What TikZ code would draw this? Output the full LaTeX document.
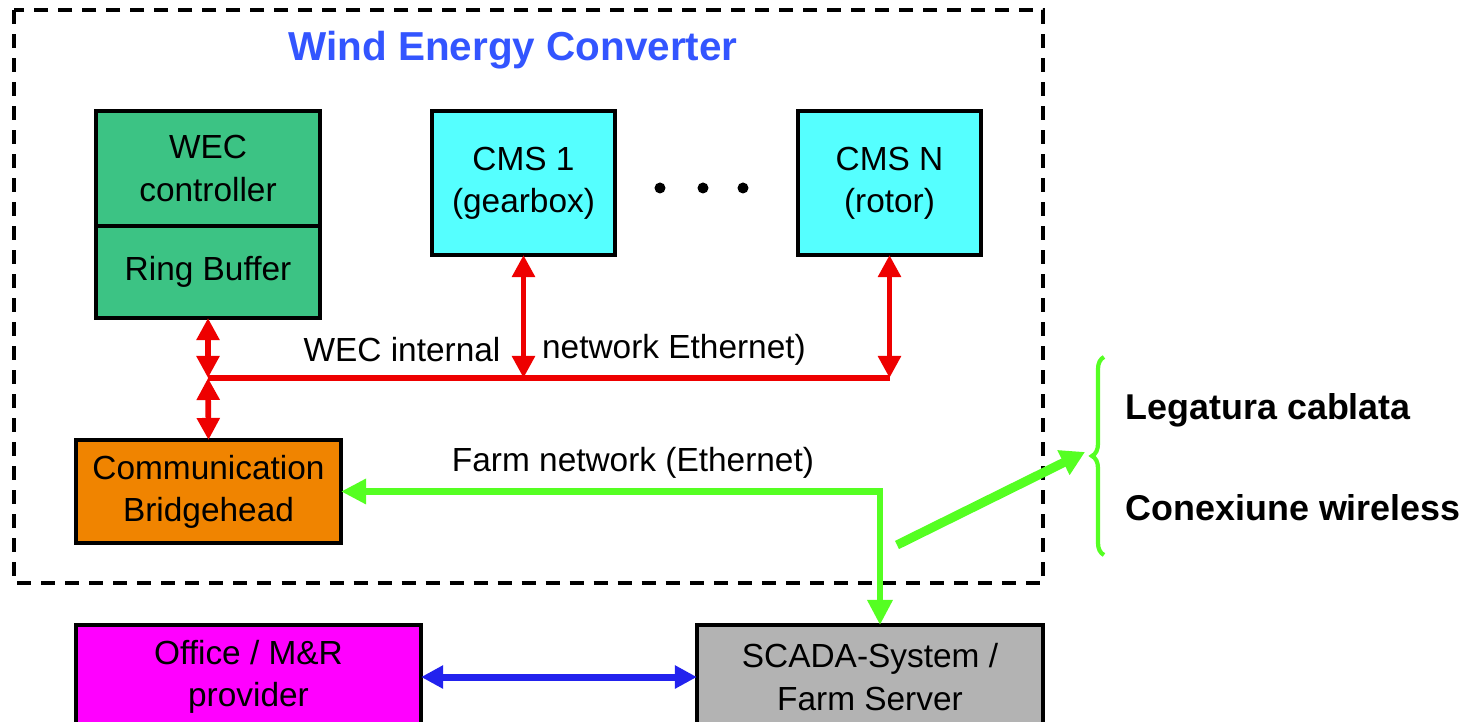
\documentclass[tikz,border=0pt]{standalone}
\usepackage{fontspec}
\setmainfont{Liberation Sans}
\usetikzlibrary{positioning, arrows.meta, decorations.pathreplacing}

\definecolor{wecgreen}{HTML}{3CC384}
\definecolor{cmscyan}{HTML}{55FFFF}
\definecolor{bridgeorange}{HTML}{F08400}
\definecolor{officemagenta}{HTML}{FF00FF}
\definecolor{scadagray}{HTML}{B3B3B3}
\definecolor{linkred}{HTML}{EE0000}
\definecolor{linkgreen}{HTML}{55FF22}
\definecolor{linkblue}{HTML}{2222EE}
\definecolor{titleblue}{HTML}{3355FF}

\begin{document}
\begin{tikzpicture}[
      x=0.01cm, y=-0.01cm,
      box/.style={
        rectangle,
        draw,
        line width=1pt,
        inner sep=0pt,
        outer sep=0pt,
        align=center,
        font=\fontsize{9.5}{12}\selectfont
      },
      netlabel/.style={inner sep=0pt, font=\fontsize{9.5}{12}\selectfont},
      sidelabel/.style={inner sep=0pt, anchor=west, font=\bfseries\fontsize{10.2}{12}\selectfont},
      frame/.style={draw, line width=0.9pt, dash pattern=on 0.14cm off 0.1cm},
      redlink/.style={draw=linkred, line width=1.6pt,
        {Triangle[width=2.2mm,length=2.2mm]}-{Triangle[width=2.2mm,length=2.2mm]}},
      greenlink/.style={draw=linkgreen, line width=1.8pt,
        {Triangle[width=2.4mm,length=2.5mm]}-{Triangle[width=2.4mm,length=2.5mm]}},
      wirelesslink/.style={draw=linkgreen, line width=2.6pt,
        -{Triangle[width=2.6mm,length=2.4mm]}},
      bluelink/.style={draw=linkblue, line width=2pt,
        {Triangle[width=2.2mm,length=2.2mm]}-{Triangle[width=2.2mm,length=2.2mm]}}
    ]
    \useasboundingbox (0,0) rectangle (1465,722);

    % Frame
    \draw[frame] (14,10) rectangle (1043,583);
    \node[font=\bfseries\fontsize{11.5}{14}\selectfont, text=titleblue] (title) at (513,50) {Wind Energy Converter};

    % Nodes
    \node[box, fill=wecgreen, minimum width=2.24cm, minimum height=1.15cm] (ctrl) at (208,168.5) {WEC\\controller};
    \node[box, fill=wecgreen, minimum width=2.24cm, minimum height=0.92cm, below=0pt of ctrl] (ring) {Ring Buffer};
    \node[box, fill=cmscyan, minimum width=1.83cm, minimum height=1.44cm] (cms1) at (523.5,183) {CMS 1\\(gearbox)};
    \node[box, fill=cmscyan, minimum width=1.83cm, minimum height=1.44cm] (cmsn) at (889.5,183) {CMS N\\(rotor)};
    \node[box, fill=bridgeorange, minimum width=2.65cm, minimum height=1.03cm] (comm) at (208.5,491.5) {Communication\\Bridgehead};
    \node[box, fill=officemagenta, minimum width=3.45cm, minimum height=1.04cm, anchor=north] (office) at (248.5,625) {Office / M\&R\\provider};
    \node[box, fill=scadagray, minimum width=3.46cm, minimum height=1.04cm, anchor=north] (scada) at (870,625) {SCADA-System /\\Farm Server};

    \foreach \x in {660,703,743}
      \fill (\x,188) circle (0.055cm);

    % Labels
    \node[netlabel] (intl) at (402,350) {WEC internal};
    \node[netlabel] (intr) at (674,350) {network Ethernet)};
    \node[netlabel] (farm) at (633,463) {Farm network (Ethernet)};
    \node[sidelabel] (cablata) at (1125,410) {Legatura cablata};
    \node[sidelabel] (wireless) at (1125,508) {Conexiune wireless};

    % Arrows
    \coordinate (busl) at (208,378);
    \coordinate (busr) at (cmsn.south |- busl);
    \draw[draw=linkred, line width=1.6pt] (busl) -- (busr);
    \draw[redlink] (ring.south) -- (busl);
    \draw[redlink] (busl) -- (comm.north);
    \draw[redlink] (cms1.south) -- (cms1.south |- busl);
    \draw[redlink] (cmsn.south) -- (busr);

    \coordinate (farmcorner) at (880,491.5);
    \draw[greenlink] (comm.east) -- (farmcorner) -- (farmcorner |- scada.north);

    \coordinate (wstart) at (897,545);
    \coordinate (wend) at (1085,452);
    \draw[wirelesslink] (wstart) -- (wend);
    \draw[draw=linkgreen, line width=1.2pt, decorate, decoration={brace, amplitude=0.12cm}] (1104,555) -- (1104,357);

    \draw[bluelink] (office.east) -- (scada.west);
  \end{tikzpicture}
\end{document}
